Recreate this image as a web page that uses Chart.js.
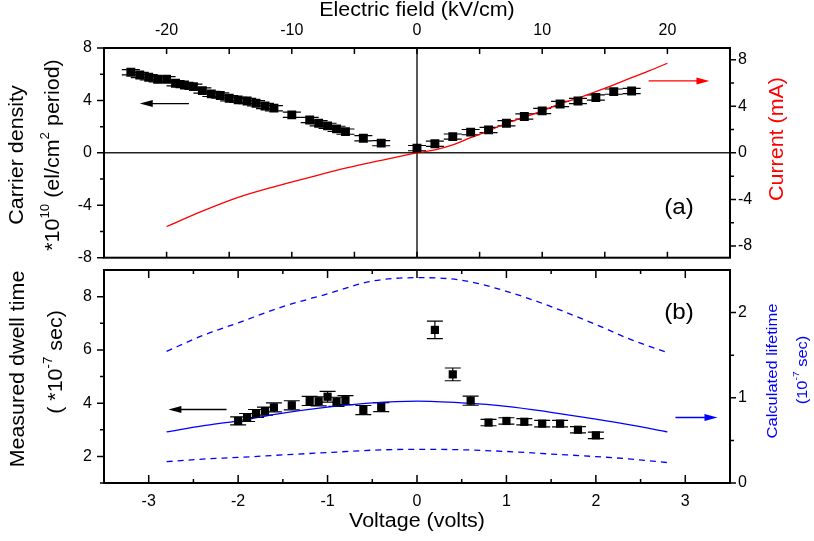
<!DOCTYPE html>
<html>
<head>
<meta charset="utf-8">
<script src="https://cdn.jsdelivr.net/npm/chart.js@4.4.1/dist/chart.umd.min.js"></script>
<style>
html, body { margin: 0; padding: 0; background: #fff; }
#wrap { position: relative; width: 814px; height: 541px; }
#topChart { position: absolute; left: 0; top: 0; }
#botChart { position: absolute; left: 0; top: 264px; }
</style>
</head>
<body>
<div id="wrap">
<canvas id="topChart" width="814" height="264"></canvas>
<canvas id="botChart" width="814" height="277"></canvas>
</div>
<script>
// (a) carrier density vs voltage
const densityVolts = [-3.2,-3.1,-3.0,-2.9,-2.8,-2.7,-2.6,-2.5,-2.4,-2.3,-2.2,-2.1,-2.0,-1.9,-1.8,-1.7,-1.6,-1.4,-1.2,-1.1,-1.0,-0.9,-0.8,-0.6,-0.4,0,
                      0.2,0.4,0.6,0.8,1.0,1.2,1.4,1.6,1.8,2.0,2.2,2.4];
const densityValues = [6.15,5.94,5.77,5.62,5.62,5.31,5.18,5.05,4.75,4.50,4.37,4.17,4.04,3.96,3.79,3.58,3.41,2.90,2.51,2.26,2.06,1.83,1.62,1.12,0.74,0.36,
                       0.69,1.24,1.58,1.75,2.26,2.77,3.20,3.73,3.96,4.22,4.67,4.72];
const densityErr = 0.2;

// (a) current
const currentVolts = [-2.8,-2.4,-2.0,-1.6,-1.2,-0.8,-0.4,0,0.2,0.4,0.6,0.8,1.0,1.2,1.4,1.6,1.8,2.0,2.2,2.4,2.6,2.8];
const currentValues = [-6.32,-5.0,-3.82,-2.91,-2.1,-1.32,-0.64,0,0.26,0.69,1.3,1.89,2.54,3.06,3.6,4.2,4.7,5.25,5.83,6.45,7.05,7.69];

// (b) measured dwell time
const dwellVolts = [-2.0,-1.9,-1.8,-1.7,-1.6,-1.4,-1.2,-1.1,-1.0,-0.9,-0.8,-0.6,-0.4,0.2,0.4,0.6,0.8,1.0,1.2,1.4,1.6,1.8,2.0];
const dwellValues = [3.33,3.46,3.61,3.70,3.84,3.92,4.08,4.07,4.24,4.05,4.11,3.74,3.85,6.75,5.08,4.09,3.27,3.33,3.30,3.23,3.23,3.00,2.79];
const dwellErr = [0.15,0.15,0.15,0.15,0.17,0.17,0.17,0.17,0.2,0.17,0.17,0.17,0.17,0.33,0.24,0.17,0.12,0.12,0.12,0.12,0.12,0.12,0.12];

// (b) calculated lifetime
const lifeVolts = [-2.8,-2.4,-2.0,-1.5,-1.0,-0.5,0,0.5,1.0,1.5,2.0,2.4,2.8];
const lifeCalc  = [0.60,0.67,0.73,0.82,0.89,0.94,0.96,0.94,0.90,0.83,0.75,0.68,0.60];
const lifeUpper = [1.545,1.73,1.88,2.07,2.22,2.37,2.41,2.38,2.25,2.07,1.86,1.68,1.53];
const lifeLower = [0.25,0.28,0.30,0.33,0.357,0.385,0.395,0.39,0.37,0.34,0.31,0.28,0.24];

// tick labels
const fieldTicks = [-20,-10,0,10,20];
const fieldMinor = [-15,-5,5,15];
const densityTicks = [-8,-4,0,4,8];
const densityMinor = [-6,-2,2,6];
const currentTicks = [-8,-4,0,4,8];
const currentMinor = [-6,-2,2,6];
const voltTicks = [-3,-2,-1,0,1,2,3];
const voltMinor = [-2.5,-1.5,-0.5,0.5,1.5,2.5];
const dwellTicks = [2,4,6,8];
const dwellMinor = [1,3,5,7];
const lifeTicks = [0,1,2];
const lifeMinor = [0.5,1.5];

const FONT = "'Liberation Sans', Arial, sans-serif";
Chart.defaults.font.family = FONT;
Chart.defaults.font.size = 16;
Chart.defaults.color = '#000';

const pts = (xs, ys) => xs.map((x, i) => ({ x: x, y: ys[i] }));
const setTicks = vals => s => { s.ticks = vals.map(v => ({ value: v })); };
const noGrid = { display: false, drawTicks: false };
// fixed axis sizes, no extra label padding
const fixW = w => s => { s.width = w; s.paddingTop = 0; s.paddingBottom = 0; };
const fixH = h => s => { s.height = h; s.paddingLeft = 0; s.paddingRight = 0; };

function drawRich(ctx, parts, cx, cy, rot, size, color) {
  const stretch = 1.1;
  ctx.save();
  ctx.translate(cx, cy);
  ctx.rotate(rot);
  ctx.scale(stretch, 1);
  ctx.fillStyle = color;
  ctx.textBaseline = 'middle';
  ctx.textAlign = 'left';
  const sup = size * 0.62;
  let w = 0;
  const widths = parts.map(p => {
    ctx.font = (p.sup ? sup : size) + 'px ' + FONT;
    const pw = ctx.measureText(p.t).width;
    w += pw;
    return pw;
  });
  let x = -w / 2;
  parts.forEach((p, i) => {
    ctx.font = (p.sup ? sup : size) + 'px ' + FONT;
    ctx.fillText(p.t, x, p.sup ? -size * 0.42 : 0);
    x += widths[i];
  });
  ctx.restore();
}

function arrow(ctx, x1, x2, y, color) {
  const dir = Math.sign(x2 - x1);
  ctx.strokeStyle = color;
  ctx.fillStyle = color;
  ctx.lineWidth = 1.3;
  ctx.beginPath();
  ctx.moveTo(x1, y);
  ctx.lineTo(x2 - dir * 8, y);
  ctx.stroke();
  ctx.beginPath();
  ctx.moveTo(x2, y);
  ctx.lineTo(x2 - dir * 13, y - 3.5);
  ctx.lineTo(x2 - dir * 13, y + 3.5);
  ctx.closePath();
  ctx.fill();
}

function tickSet(ctx, a, scale, values, len, edge, inward) {
  ctx.beginPath();
  values.forEach(v => {
    const p = scale.getPixelForValue(v);
    if (edge === 'left') { ctx.moveTo(a.left, p); ctx.lineTo(a.left + (inward ? len : -len), p); }
    if (edge === 'right') { ctx.moveTo(a.right, p); ctx.lineTo(a.right + (inward ? -len : len), p); }
    if (edge === 'top') { ctx.moveTo(p, a.top); ctx.lineTo(p, a.top + (inward ? len : -len)); }
    if (edge === 'bottom') { ctx.moveTo(p, a.bottom); ctx.lineTo(p, a.bottom + (inward ? -len : len)); }
  });
  ctx.stroke();
}

function makeDecor(cfg) {
  return {
    id: 'decor',
    beforeDatasetsDraw(chart) {
      const { ctx, chartArea: a } = chart;
      const xs = chart.scales.x, ys = chart.scales.y;
      ctx.save();
      if (cfg.zeroLines) {
        const x0 = xs.getPixelForValue(0), y0 = ys.getPixelForValue(0);
        ctx.strokeStyle = '#222';
        ctx.lineWidth = 1.5;
        ctx.beginPath();
        ctx.moveTo(a.left, y0); ctx.lineTo(a.right, y0);
        ctx.moveTo(x0, a.top); ctx.lineTo(x0, a.bottom);
        ctx.stroke();
      }
      const eb = cfg.errors;
      ctx.strokeStyle = '#000';
      ctx.lineWidth = 1.2;
      eb.x.forEach((v, i) => {
        const px = xs.getPixelForValue(v);
        const hi = ys.getPixelForValue(eb.y[i] + eb.e[i]);
        const lo = ys.getPixelForValue(eb.y[i] - eb.e[i]);
        ctx.beginPath();
        ctx.moveTo(px, hi); ctx.lineTo(px, lo);
        ctx.moveTo(px - eb.cap, hi); ctx.lineTo(px + eb.cap, hi);
        ctx.moveTo(px - eb.cap, lo); ctx.lineTo(px + eb.cap, lo);
        ctx.stroke();
      });
      ctx.restore();
    },
    afterDraw(chart) {
      const { ctx, chartArea: a } = chart;
      ctx.save();
      ctx.strokeStyle = '#000';
      ctx.lineWidth = 2;
      ctx.strokeRect(a.left, a.top, a.right - a.left, a.bottom - a.top);
      ctx.lineWidth = 1.5;
      cfg.ticks.forEach(t => tickSet(ctx, a, chart.scales[t.id], t.v, t.len, t.edge, t.inward));
      cfg.texts.forEach(t => {
        let x = t.x, y = t.y;
        if (t.vx !== undefined) { x = chart.scales.x.getPixelForValue(t.vx); y = chart.scales.y.getPixelForValue(t.vy); }
        drawRich(ctx, t.parts, x, y, t.rot || 0, t.size, t.color || '#000');
      });
      cfg.arrows.forEach(r => {
        arrow(ctx, chart.scales.x.getPixelForValue(r.from), chart.scales.x.getPixelForValue(r.to),
              chart.scales.y.getPixelForValue(r.y), r.color);
      });
      ctx.restore();
    }
  };
}

const R = -Math.PI / 2;

new Chart(document.getElementById('topChart'), {
  data: {
    datasets: [{
      type: 'scatter',
      data: pts(densityVolts, densityValues),
      xAxisID: 'x', yAxisID: 'y',
      pointStyle: 'rect', pointRadius: 6.3, pointHoverRadius: 6.3,
      backgroundColor: '#000', borderWidth: 0, order: 0
    }, {
      type: 'line',
      data: pts(currentVolts, currentValues),
      xAxisID: 'x', yAxisID: 'y2',
      borderColor: '#ff0000', borderWidth: 1.3, pointRadius: 0,
      cubicInterpolationMode: 'monotone', fill: false, order: 1
    }]
  },
  options: {
    responsive: false, animation: false, events: [],
    layout: { padding: { left: 0, right: 0, top: 0, bottom: 5 } },
    plugins: { legend: { display: false }, tooltip: { enabled: false } },
    scales: {
      x: { type: 'linear', min: -3.5, max: 3.5, display: false },
      xf: {
        type: 'linear', position: 'top', min: -25, max: 25,
        grid: noGrid, border: { display: false },
        afterBuildTicks: setTicks(fieldTicks),
        ticks: { padding: 8 },
        afterFit: fixH(48)
      },
      y: {
        type: 'linear', position: 'left', min: -8, max: 8,
        grid: noGrid, border: { display: false },
        afterBuildTicks: setTicks(densityTicks),
        ticks: { padding: 12 },
        afterFit: fixW(104)
      },
      y2: {
        type: 'linear', position: 'right', min: -9, max: 9,
        grid: noGrid, border: { display: false },
        afterBuildTicks: setTicks(currentTicks),
        ticks: { padding: 8 },
        afterFit: fixW(84)
      }
    }
  },
  plugins: [makeDecor({
    zeroLines: true,
    errors: { x: densityVolts, y: densityValues, e: densityVolts.map(() => densityErr), cap: 9 },
    ticks: [
      { id: 'y', v: densityTicks, len: 7, edge: 'left', inward: false },
      { id: 'y', v: densityMinor, len: 4, edge: 'left', inward: false },
      { id: 'y2', v: currentTicks, len: 6, edge: 'right', inward: false },
      { id: 'y2', v: currentMinor, len: 4, edge: 'right', inward: false },
      { id: 'xf', v: fieldTicks.concat(fieldMinor), len: 6, edge: 'top', inward: true },
      { id: 'xf', v: fieldTicks.concat(fieldMinor), len: 6, edge: 'bottom', inward: true }
    ],
    texts: [
      { parts: [{ t: 'Electric field (kV/cm)' }], x: 417, y: 11, size: 19.5 },
      { parts: [{ t: 'Carrier density' }], x: 18, y: 155, rot: R, size: 19.5 },
      { parts: [{ t: '*10' }, { t: '10', sup: true }, { t: ' (el/cm' }, { t: '2', sup: true }, { t: ' period)' }], x: 54, y: 155, rot: R, size: 19.5 },
      { parts: [{ t: 'Current (mA)' }], x: 778, y: 139, rot: R, size: 19.5, color: '#ff0000' },
      { parts: [{ t: '(a)' }], vx: 2.93, vy: -4.19, size: 22 }
    ],
    arrows: [
      { from: -2.55, to: -3.1, y: 3.76, color: '#000' },
      { from: 2.59, to: 3.27, y: 5.49, color: '#ff0000' }
    ]
  })]
});

new Chart(document.getElementById('botChart'), {
  data: {
    datasets: [{
      type: 'scatter',
      data: pts(dwellVolts, dwellValues),
      xAxisID: 'x', yAxisID: 'y',
      pointStyle: 'rect', pointRadius: 5.8, pointHoverRadius: 5.8,
      backgroundColor: '#000', borderWidth: 0, order: 0
    }, {
      type: 'line',
      data: pts(lifeVolts, lifeCalc),
      xAxisID: 'x', yAxisID: 'y2',
      borderColor: '#0000ff', borderWidth: 1.3, pointRadius: 0,
      cubicInterpolationMode: 'monotone', fill: false, order: 1
    }, {
      type: 'line',
      data: pts(lifeVolts, lifeUpper),
      xAxisID: 'x', yAxisID: 'y2',
      borderColor: '#0000ff', borderWidth: 1.3, borderDash: [6, 5], pointRadius: 0,
      cubicInterpolationMode: 'monotone', fill: false, order: 1
    }, {
      type: 'line',
      data: pts(lifeVolts, lifeLower),
      xAxisID: 'x', yAxisID: 'y2',
      borderColor: '#0000ff', borderWidth: 1.3, borderDash: [6, 5], pointRadius: 0,
      cubicInterpolationMode: 'monotone', fill: false, order: 1
    }]
  },
  options: {
    responsive: false, animation: false, events: [],
    layout: { padding: { left: 0, right: 0, top: 6, bottom: 0 } },
    plugins: { legend: { display: false }, tooltip: { enabled: false } },
    scales: {
      x: {
        type: 'linear', position: 'bottom', min: -3.5, max: 3.5,
        grid: noGrid, border: { display: false },
        afterBuildTicks: setTicks(voltTicks),
        ticks: { padding: 9 },
        afterFit: fixH(58)
      },
      y: {
        type: 'linear', position: 'left', min: 1, max: 9,
        grid: noGrid, border: { display: false },
        afterBuildTicks: setTicks(dwellTicks),
        ticks: { padding: 12 },
        afterFit: fixW(104)
      },
      y2: {
        type: 'linear', position: 'right', min: 0, max: 2.5,
        grid: noGrid, border: { display: false },
        afterBuildTicks: setTicks(lifeTicks),
        ticks: { padding: 8 },
        afterFit: fixW(84)
      }
    }
  },
  plugins: [makeDecor({
    zeroLines: false,
    errors: { x: dwellVolts, y: dwellValues, e: dwellErr, cap: 8 },
    ticks: [
      { id: 'y', v: dwellTicks, len: 7, edge: 'left', inward: false },
      { id: 'y', v: dwellMinor, len: 4, edge: 'left', inward: false },
      { id: 'y2', v: lifeTicks, len: 6, edge: 'right', inward: false },
      { id: 'y2', v: lifeMinor, len: 4, edge: 'right', inward: false },
      { id: 'x', v: voltTicks, len: 8, edge: 'bottom', inward: true },
      { id: 'x', v: voltMinor, len: 4, edge: 'bottom', inward: true },
      { id: 'x', v: voltTicks, len: 8, edge: 'top', inward: true },
      { id: 'x', v: voltMinor, len: 4, edge: 'top', inward: true }
    ],
    texts: [
      { parts: [{ t: 'Voltage (volts)' }], x: 417, y: 258, size: 19.5 },
      { parts: [{ t: 'Measured dwell time' }], x: 19, y: 105, rot: R, size: 19.5 },
      { parts: [{ t: '( *10' }, { t: '-7', sup: true }, { t: ' sec)' }], x: 57, y: 98, rot: R, size: 19.5 },
      { parts: [{ t: 'Calculated lifetime' }], x: 773, y: 107, rot: R, size: 15, color: '#0000ff' },
      { parts: [{ t: '(10' }, { t: '-7', sup: true }, { t: ' sec)' }], x: 803, y: 106, rot: R, size: 15, color: '#0000ff' },
      { parts: [{ t: '(b)' }], vx: 2.93, vy: 7.4, size: 22 }
    ],
    arrows: [
      { from: -2.13, to: -2.78, y: 3.76, color: '#000' },
      { from: 2.89, to: 3.36, y: 3.46, color: '#0000ff' }
    ]
  })]
});
</script>
</body>
</html>
